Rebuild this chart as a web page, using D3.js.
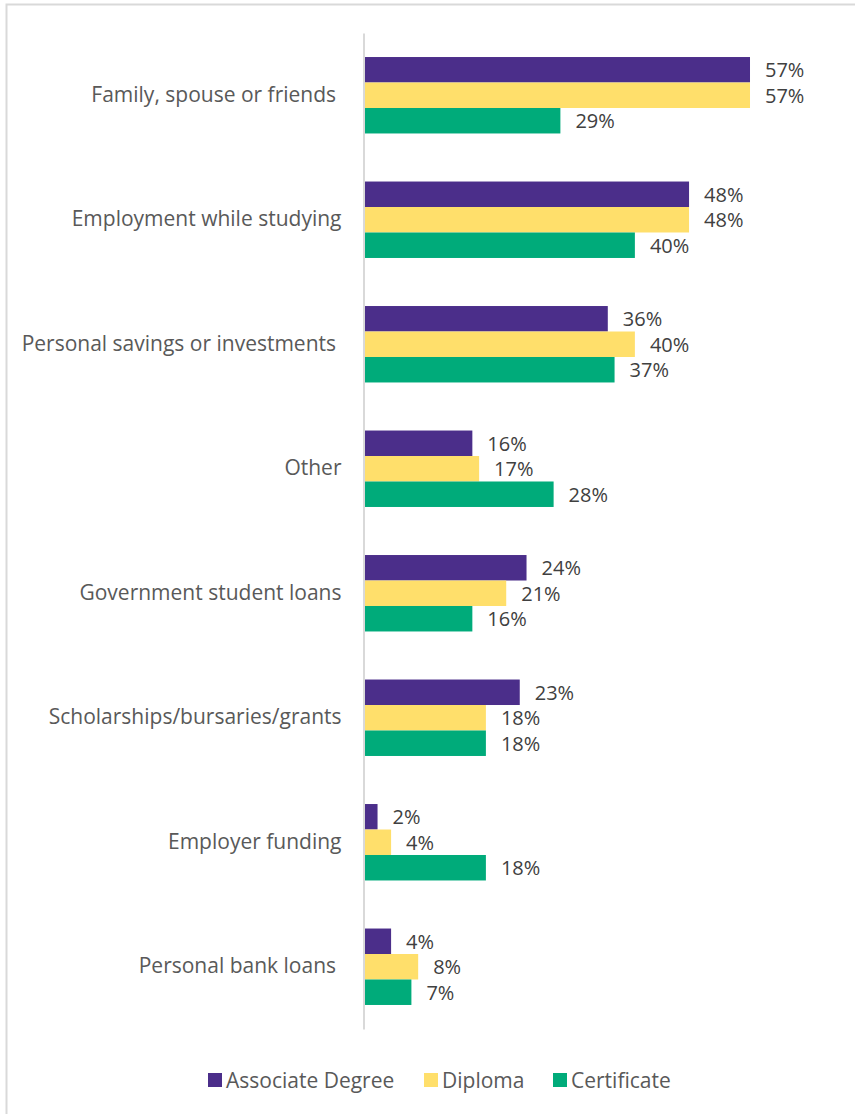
<!DOCTYPE html>
<html>
<head>
<meta charset="utf-8">
<script src="https://cdn.jsdelivr.net/npm/d3@7"></script>
<style>
  body { margin: 0; background: #fff; }
  svg text { font-family: "Open Sans", Lato, sans-serif; white-space: pre; }
</style>
</head>
<body>
<svg id="chart" width="855" height="1114"></svg>
<script>
const categories = [
  "Family, spouse or friends ",
  "Employment while studying",
  "Personal savings or investments ",
  "Other",
  "Government student loans",
  "Scholarships/bursaries/grants",
  "Employer funding",
  "Personal bank loans "
];
const seriesNames = ["Associate Degree", "Diploma", "Certificate"];
const associateDegree = [57, 48, 36, 16, 24, 23, 2, 4];
const diploma = [57, 48, 40, 17, 21, 18, 4, 8];
const certificate = [29, 40, 37, 28, 16, 18, 18, 7];
const colors = ["#4B2E8A", "#FFDF6B", "#00AB7A"];

const series = [associateDegree, diploma, certificate];
const svg = d3.select("#chart");

// frame
svg.append("path").attr("d", "M6.5,1114 L6.5,4.5 L855,4.5")
  .attr("fill", "none").attr("stroke", "#d9d9d9").attr("stroke-width", 2);

const x = d3.scaleLinear().domain([0, 60]).range([364, 364 + 60 * 6.772]);
const y = d3.scaleBand().domain(categories).range([33, 1029])
  .paddingInner(0.386).paddingOuter(0.193);
const ySub = d3.scaleBand().domain(seriesNames).range([0, y.bandwidth()]);

const groups = svg.append("g").selectAll("g").data(categories).join("g")
  .attr("transform", d => `translate(0,${y(d)})`);

seriesNames.forEach((s, si) => {
  groups.append("rect")
    .attr("x", x(0))
    .attr("y", ySub(s))
    .attr("width", (d, i) => x(series[si][i]) - x(0))
    .attr("height", ySub.bandwidth())
    .attr("fill", colors[si]);
  groups.append("text")
    .attr("x", (d, i) => x(series[si][i]) + 15)
    .attr("y", ySub(s) + ySub.bandwidth() / 2)
    .attr("dy", "0.38em")
    .attr("font-size", 20)
    .attr("fill", "#404040")
    .text((d, i) => series[si][i] + "%");
});

// axis
const axis = svg.append("g").attr("transform", `translate(${x(0) - 0.5},0)`)
  .call(d3.axisLeft(y).tickSize(0).tickPadding(22));
axis.select(".domain").attr("stroke", "#d9d9d9").attr("stroke-width", 2);
axis.selectAll("text").attr("font-size", 21).attr("fill", "#595959")
  .attr("font-family", "'Open Sans', Lato, sans-serif");

// legend
const legendX = [208, 424, 553];
const leg = svg.append("g").selectAll("g").data(seriesNames).join("g")
  .attr("transform", (d, i) => `translate(${legendX[i]},1073)`);
leg.append("rect").attr("width", 14).attr("height", 14).attr("fill", (d, i) => colors[i]);
leg.append("text").attr("x", 18).attr("y", 7).attr("dy", "0.36em")
  .attr("font-size", 21).attr("fill", "#595959").text(d => d);
</script>
</body>
</html>
